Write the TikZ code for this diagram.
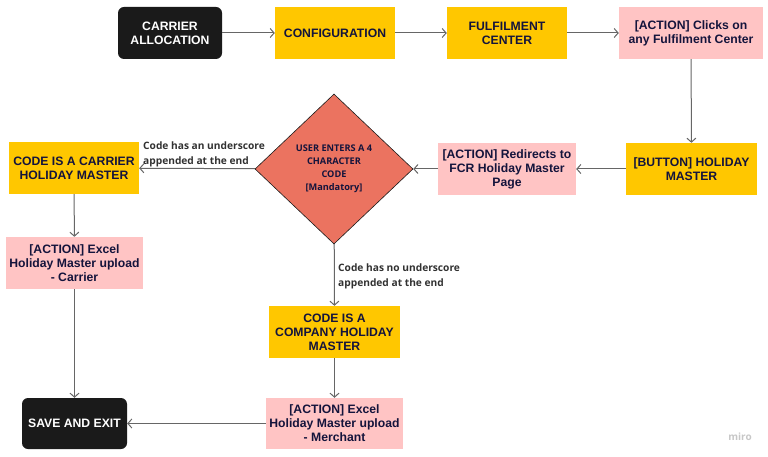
\documentclass[tikz,border=0pt]{standalone}
\usepackage{fontspec}
\setmainfont{Liberation Sans}
\newfontfamily\labfont{Open Sans}
\usetikzlibrary{shapes.geometric,arrows.meta}
\definecolor{myyellow}{HTML}{FFC700}
\definecolor{mypink}{HTML}{FFC4C4}
\definecolor{mycoral}{HTML}{EB7360}
\definecolor{myblack}{HTML}{1A1A1A}
\definecolor{mynavy}{HTML}{14143C}
\definecolor{myline}{HTML}{666666}
\tikzset{
  box/.style={rectangle, inner sep=0pt, align=center, font=\fontsize{12.2}{14}\selectfont\bfseries, text=mynavy},
  ybox/.style={box, fill=myyellow},
  pbox/.style={box, fill=mypink},
  kbox/.style={box, fill=myblack, text=white, rounded corners=6pt},
  dec/.style={diamond, fill=mycoral, draw=myblack, line width=0.6pt, inner sep=0pt, align=center, font=\labfont\fontsize{9.2}{13}\selectfont\bfseries, text=mynavy},
  conn/.style={draw=myline, line width=1pt, -{Straight Barb[length=4pt,width=9pt]}},
  lab/.style={font=\labfont\fontsize{10.2}{15}\selectfont\bfseries, text=myblack!90, align=left, inner sep=0pt}
}
\begin{document}
\begin{tikzpicture}[x=1pt,y=-1pt]
\useasboundingbox (0,0) rectangle (768,457);
\node[kbox, minimum width=104pt, minimum height=52pt] (ca) at (170,33) {CARRIER\\ALLOCATION};
\node[ybox, minimum width=120pt, minimum height=52pt] (conf) at (335,33) {CONFIGURATION};
\node[ybox, minimum width=120pt, minimum height=52pt] (fc) at (507,33) {FULFILMENT\\CENTER};
\node[pbox, minimum width=144pt, minimum height=52pt] (clk) at (691,33) {[ACTION] Clicks on\\any Fulfilment Center};
\node[ybox, minimum width=131pt, minimum height=52pt] (btn) at (691.5,169) {[BUTTON] HOLIDAY\\MASTER};
\node[pbox, minimum width=138pt, minimum height=52pt] (red) at (507,169) {[ACTION] Redirects to\\FCR Holiday Master\\Page};
\node[dec, minimum width=158pt, minimum height=150pt, aspect=1.05] (dia) at (334,169) {USER ENTERS A 4\\CHARACTER\\CODE\\{[Mandatory]}};
\node[ybox, minimum width=130pt, minimum height=52pt] (car) at (74,168) {CODE IS A CARRIER\\HOLIDAY MASTER};
\node[pbox, minimum width=137pt, minimum height=52pt] (exc) at (74.5,263) {[ACTION] Excel\\Holiday Master upload\\- Carrier};
\node[ybox, minimum width=131pt, minimum height=52pt] (comp) at (334.5,332) {CODE IS A\\COMPANY HOLIDAY\\MASTER};
\node[pbox, minimum width=137pt, minimum height=51pt] (mer) at (334.5,423.5) {[ACTION] Excel\\Holiday Master upload\\- Merchant};
\node[kbox, minimum width=105pt, minimum height=51pt] (save) at (74.5,423.5) {SAVE AND EXIT};
\draw[conn] (ca) -- (conf);
\draw[conn] (conf) -- (fc);
\draw[conn] (fc) -- (clk);
\draw[conn] (clk) -- (btn);
\draw[conn] (btn) -- (red);
\draw[conn] (red) -- (dia);
\draw[conn] (dia) -- (car);
\draw[conn] (car) -- (exc);
\draw[conn] (exc) -- (save);
\draw[conn] (dia) -- (comp);
\draw[conn] (comp) -- (mer);
\draw[conn] (mer) -- (save);
\node[lab, anchor=south west] (l1) at (143,167) {Code has an underscore\\appended at the end};
\node[lab, anchor=north west] (l2) at (338,264) {Code has no underscore\\appended at the end};
\node[font=\labfont\fontsize{10}{12}\selectfont\bfseries, text=black!22, inner sep=0pt] (miro) at (740,437) {miro};
\end{tikzpicture}
\end{document}
